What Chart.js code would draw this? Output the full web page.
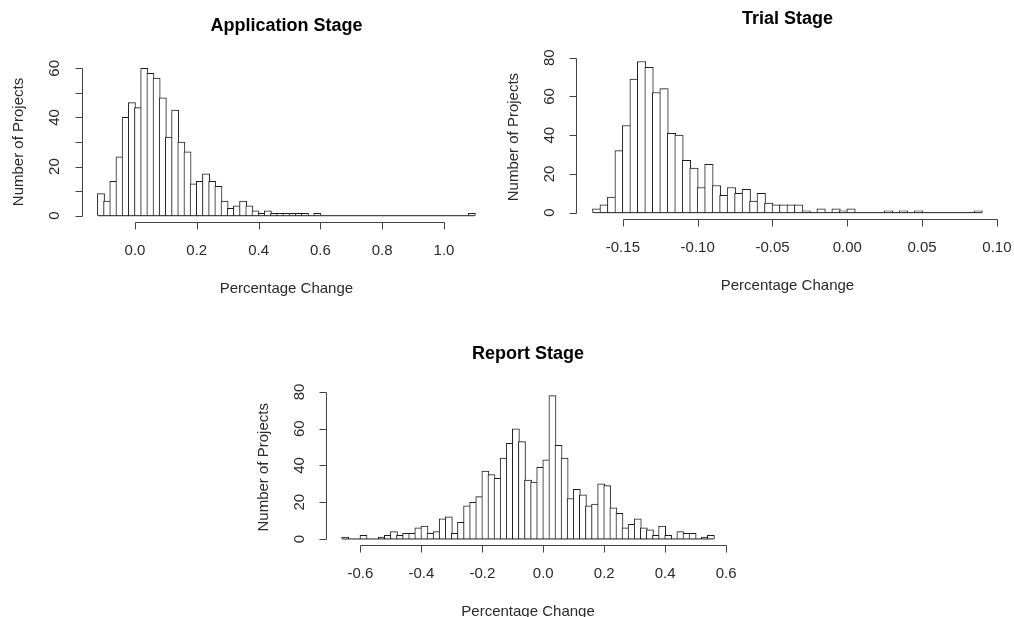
<!DOCTYPE html>
<html>
<head>
<meta charset="utf-8">
<title>Percentage Change by Stage</title>
<script src="https://cdn.jsdelivr.net/npm/chart.js@4.4.1/dist/chart.umd.min.js"></script>
<style>
  html, body { margin: 0; background: #fff; }
  #wrap { position: relative; width: 1014px; height: 617px; overflow: hidden; }
  .panel { position: absolute; }
</style>
</head>
<body>
<div id="wrap">
  <canvas id="appChart" class="panel" style="left:0;top:0" width="497" height="310"></canvas>
  <canvas id="trialChart" class="panel" style="left:497px;top:0" width="517" height="310"></canvas>
  <canvas id="reportChart" class="panel" style="left:237px;top:330px" width="540" height="287"></canvas>
</div>
<script>
// histogram counts, one per bin, bins start at *Start and are *Width wide
const appStart = -0.12;
const appWidth = 0.02;
const appCounts = [
  9, 6, 14, 24, 40, 46, 44, 60, 58, 56, 48, 32, 43, 30, 26, 13, 14, 17, 14, 12,
  6, 3, 4, 6, 4, 2, 1, 2, 1, 1, 1, 1, 1, 1, 0, 1, 0, 0, 0, 0,
  0, 0, 0, 0, 0, 0, 0, 0, 0, 0, 0, 0, 0, 0, 0, 0, 0, 0, 0, 0, 1,
];
const appXTicks = [0, 0.2, 0.4, 0.6, 0.8, 1.0];
const appXLabels = ["0.0", "0.2", "0.4", "0.6", "0.8", "1.0"];
const appYTicks = [0, 10, 20, 30, 40, 50, 60];
const appYLabels = ["0", "", "20", "", "40", "", "60"];

const trialStart = -0.17;
const trialWidth = 0.005;
const trialCounts = [
  2, 4, 8, 32, 45, 69, 78, 75, 62, 64, 41, 40, 27, 23, 13, 25, 14, 9, 13, 10,
  12, 6, 10, 5, 4, 4, 4, 4, 1, 0, 2, 0, 2, 1, 2, 0, 0, 0, 0, 1,
  0, 1, 0, 1, 0, 0, 0, 0, 0, 0, 0, 1,
];
const trialXTicks = [-0.15, -0.1, -0.05, 0, 0.05, 0.1];
const trialXLabels = ["-0.15", "-0.10", "-0.05", "0.00", "0.05", "0.10"];
const trialYTicks = [0, 20, 40, 60, 80];
const trialYLabels = ["0", "20", "40", "60", "80"];

const reportStart = -0.66;
const reportWidth = 0.02;
const reportCounts = [
  1, 0, 0, 2, 0, 0, 1, 2, 4, 2, 3, 3, 6, 7, 3, 4, 11, 12, 3, 9,
  18, 20, 23, 37, 35, 33, 44, 52, 60, 53, 32, 31, 39, 43, 78, 51, 44, 22, 27, 24,
  18, 19, 30, 29, 17, 14, 6, 8, 11, 6, 5, 2, 7, 2, 0, 4, 3, 3, 0, 1, 2,
];
const reportXTicks = [-0.6, -0.4, -0.2, 0, 0.2, 0.4, 0.6];
const reportXLabels = ["-0.6", "-0.4", "-0.2", "0.0", "0.2", "0.4", "0.6"];
const reportYTicks = [0, 20, 40, 60, 80];
const reportYLabels = ["0", "20", "40", "60", "80"];

const FONT = '"Liberation Sans", Arial, Helvetica, sans-serif';
const INK = "#1e1e1e";
const AXIS = "#444";
const TICK_LEN = 7;

// base-graphics style axes: lines only between the outer ticks, offset labels
const rAxes = {
  id: "rAxes",
  afterDraw(chart, args, o) {
    const { ctx, chartArea: a } = chart;
    const xs = chart.scales.x;
    const ys = chart.scales.y;
    const px = (v) => Math.round(xs.getPixelForValue(v)) + 0.5;
    const py = (v) => Math.round(ys.getPixelForValue(v)) + 0.5;
    const xb = Math.round(a.bottom) + 0.5;
    const yl = Math.round(a.left) - 0.5;

    ctx.save();
    ctx.strokeStyle = AXIS;
    ctx.lineWidth = 1;
    ctx.beginPath();
    ctx.moveTo(px(o.xTicks[0]), xb);
    ctx.lineTo(px(o.xTicks[o.xTicks.length - 1]), xb);
    for (const v of o.xTicks) {
      ctx.moveTo(px(v), xb);
      ctx.lineTo(px(v), xb + TICK_LEN);
    }
    ctx.moveTo(yl, py(o.yTicks[0]));
    ctx.lineTo(yl, py(o.yTicks[o.yTicks.length - 1]));
    for (const v of o.yTicks) {
      ctx.moveTo(yl, py(v));
      ctx.lineTo(yl - TICK_LEN, py(v));
    }
    ctx.stroke();

    ctx.fillStyle = "#2b2b2b";
    ctx.textAlign = "center";
    ctx.textBaseline = "middle";
    ctx.font = `15px ${FONT}`;
    o.xTicks.forEach((v, i) => {
      ctx.fillText(o.xLabels[i], xs.getPixelForValue(v), a.bottom + 29.5);
    });
    o.yTicks.forEach((v, i) => {
      if (!o.yLabels[i]) return;
      ctx.save();
      ctx.translate(a.left - 27.5, ys.getPixelForValue(v));
      ctx.rotate(-Math.PI / 2);
      ctx.fillText(o.yLabels[i], 0, 0);
      ctx.restore();
    });

    const cx = (a.left + a.right) / 2;
    const cy = (a.top + a.bottom) / 2;
    ctx.font = `15px ${FONT}`;
    ctx.fillText(o.xTitle, cx, a.bottom + 67);
    ctx.save();
    ctx.translate(a.left - 63.5, cy);
    ctx.rotate(-Math.PI / 2);
    ctx.fillText(o.yTitle, 0, 0);
    ctx.restore();

    ctx.fillStyle = "#000";
    ctx.font = `bold 18px ${FONT}`;
    ctx.fillText(o.title, cx, a.top - 36);
    ctx.restore();
  },
};

function makeHist(id, title, start, width, counts, xTicks, xLabels, yTicks, yLabels, pad) {
  const canvas = document.getElementById(id);
  const end = start + counts.length * width;
  const xMin = start - 0.04 * (end - start);
  const xMax = end + 0.04 * (end - start);
  const top = Math.max(...counts);
  const plotW = canvas.width - pad.left - pad.right;
  // neighbouring bars overlap by one pixel so shared edges draw as one line
  const barPx = (plotW / (xMax - xMin)) * width + 1;

  return new Chart(canvas, {
    type: "bar",
    data: {
      datasets: [
        {
          type: "line",
          data: [{ x: start, y: 0 }, { x: end, y: 0 }],
          borderColor: INK,
          borderWidth: 1,
          pointRadius: 0,
          order: 0,
        },
        {
          data: counts.map((c, i) => ({ x: start + (i + 0.5) * width, y: c })),
          backgroundColor: "#fff",
          borderColor: INK,
          borderWidth: 1,
          barThickness: barPx,
          order: 1,
        },
      ],
    },
    options: {
      responsive: false,
      animation: false,
      devicePixelRatio: 1,
      layout: { padding: pad },
      plugins: {
        legend: { display: false },
        tooltip: { enabled: false },
        rAxes: {
          title,
          xTitle: "Percentage Change",
          yTitle: "Number of Projects",
          xTicks, xLabels, yTicks, yLabels,
        },
      },
      scales: {
        x: { type: "linear", min: xMin, max: xMax, offset: false, display: false },
        y: { min: -0.04 * top, max: 1.04 * top, display: false },
      },
    },
    plugins: [rAxes],
  });
}

makeHist("appChart", "Application Stage", appStart, appWidth, appCounts,
  appXTicks, appXLabels, appYTicks, appYLabels,
  { left: 82.8, top: 62.4, right: 7, bottom: 88.4 });

makeHist("trialChart", "Trial Stage", trialStart, trialWidth, trialCounts,
  trialXTicks, trialXLabels, trialYTicks, trialYLabels,
  { left: 80.4, top: 55.5, right: 16.5, bottom: 91.3 });

makeHist("reportChart", "Report Stage", reportStart, reportWidth, reportCounts,
  reportXTicks, reportXLabels, reportYTicks, reportYLabels,
  { left: 90.3, top: 59.9, right: 48.2, bottom: 72.3 });
</script>
</body>
</html>
